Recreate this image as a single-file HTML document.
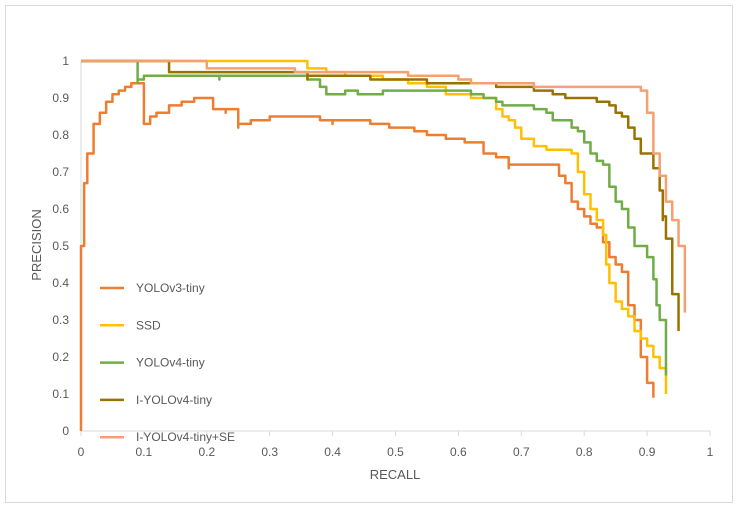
<!DOCTYPE html>
<html><head><meta charset="utf-8"><style>
body{margin:0;background:#fff;font-family:"Liberation Sans",sans-serif}
svg text{font-family:"Liberation Sans",sans-serif;fill:#595959}
</style></head><body>
<svg id="c" width="738" height="510">
<rect x="5.5" y="5.5" width="727" height="497" fill="#fff" stroke="#D9D9D9"/>
<g id="axes"></g><g id="series"></g><g id="legend"></g>
<text x="395" y="479" text-anchor="middle" font-size="13">RECALL</text>
<text transform="translate(41,245) rotate(-90)" text-anchor="middle" font-size="13">PRECISION</text>
</svg>
<script>
const xTicks=[0,0.1,0.2,0.3,0.4,0.5,0.6,0.7,0.8,0.9,1];
const yTicks=[0,0.1,0.2,0.3,0.4,0.5,0.6,0.7,0.8,0.9,1];
const names=["YOLOv3-tiny","SSD","YOLOv4-tiny","I-YOLOv4-tiny","I-YOLOv4-tiny+SE"];
const colors=["#ED7D31","#FFC000","#70AD47","#997300","#F4A070"];
const s1=[[0,0],[0.005,0.5],[0.01,0.67],[0.02,0.75],[0.02,0.8],[0.03,0.83],[0.04,0.86],[0.05,0.89],[0.06,0.91],[0.07,0.92],[0.08,0.93],[0.09,0.94],[0.1,0.94],[0.1,0.83],[0.11,0.83],[0.12,0.85],[0.14,0.86],[0.16,0.88],[0.18,0.89],[0.2,0.9],[0.21,0.9],[0.21,0.87],[0.23,0.86],[0.25,0.87],[0.25,0.82],[0.27,0.83],[0.3,0.84],[0.33,0.85],[0.36,0.85],[0.38,0.84],[0.4,0.83],[0.43,0.84],[0.46,0.83],[0.49,0.82],[0.51,0.82],[0.53,0.81],[0.55,0.8],[0.58,0.79],[0.6,0.79],[0.61,0.78],[0.63,0.78],[0.64,0.75],[0.66,0.74],[0.68,0.74],[0.68,0.71],[0.7,0.72],[0.74,0.72],[0.76,0.69],[0.77,0.67],[0.78,0.66],[0.78,0.62],[0.79,0.6],[0.8,0.58],[0.81,0.56],[0.82,0.55],[0.83,0.51],[0.84,0.47],[0.85,0.45],[0.86,0.43],[0.87,0.34],[0.88,0.3],[0.89,0.2],[0.9,0.13],[0.91,0.09]];
const s2=[[0,1],[0.35,1],[0.36,0.98],[0.39,0.97],[0.42,0.96],[0.48,0.95],[0.52,0.94],[0.55,0.93],[0.58,0.91],[0.62,0.9],[0.65,0.9],[0.66,0.87],[0.67,0.85],[0.68,0.84],[0.69,0.82],[0.7,0.79],[0.72,0.77],[0.74,0.76],[0.76,0.76],[0.78,0.75],[0.79,0.74],[0.79,0.7],[0.8,0.64],[0.81,0.6],[0.82,0.57],[0.83,0.53],[0.835,0.45],[0.84,0.4],[0.85,0.35],[0.86,0.33],[0.87,0.31],[0.88,0.27],[0.89,0.25],[0.9,0.23],[0.91,0.2],[0.92,0.17],[0.93,0.17],[0.93,0.1]];
const s3=[[0,1],[0.09,1],[0.09,0.94],[0.1,0.95],[0.12,0.96],[0.22,0.96],[0.22,0.95],[0.23,0.96],[0.35,0.96],[0.36,0.95],[0.38,0.93],[0.39,0.91],[0.42,0.91],[0.43,0.92],[0.44,0.91],[0.48,0.91],[0.49,0.92],[0.6,0.92],[0.62,0.91],[0.64,0.9],[0.66,0.89],[0.67,0.88],[0.7,0.88],[0.72,0.87],[0.74,0.86],[0.75,0.84],[0.77,0.84],[0.78,0.82],[0.79,0.81],[0.8,0.78],[0.81,0.75],[0.82,0.73],[0.83,0.72],[0.84,0.66],[0.85,0.62],[0.86,0.6],[0.87,0.55],[0.88,0.5],[0.89,0.5],[0.9,0.47],[0.91,0.41],[0.915,0.34],[0.92,0.3],[0.93,0.2],[0.93,0.15]];
const s4=[[0,1],[0.14,1],[0.14,0.97],[0.35,0.97],[0.36,0.95],[0.38,0.96],[0.42,0.96],[0.46,0.95],[0.52,0.95],[0.55,0.94],[0.64,0.94],[0.66,0.93],[0.7,0.93],[0.72,0.92],[0.75,0.91],[0.77,0.9],[0.8,0.9],[0.82,0.89],[0.84,0.88],[0.85,0.86],[0.86,0.85],[0.87,0.82],[0.88,0.79],[0.89,0.75],[0.91,0.75],[0.91,0.71],[0.92,0.65],[0.925,0.57],[0.93,0.58],[0.93,0.52],[0.94,0.37],[0.95,0.37],[0.95,0.27]];
const s5=[[0,1],[0.2,1],[0.2,0.98],[0.33,0.98],[0.34,0.97],[0.5,0.97],[0.52,0.96],[0.55,0.96],[0.6,0.95],[0.62,0.94],[0.7,0.94],[0.72,0.93],[0.88,0.93],[0.89,0.92],[0.9,0.91],[0.9,0.86],[0.91,0.75],[0.92,0.69],[0.93,0.69],[0.93,0.62],[0.94,0.57],[0.95,0.57],[0.95,0.5],[0.96,0.5],[0.96,0.32]];
const series=[s1,s2,s3,s4,s5];
const NS="http://www.w3.org/2000/svg";
const X=r=>81+629*r, Y=p=>431-370*p;
function mk(t,a,parent){const e=document.createElementNS(NS,t);for(const k in a)e.setAttribute(k,a[k]);parent.appendChild(e);return e;}
const ax=document.getElementById('axes');
let a=mk('line',{x1:X(0),y1:Y(0),x2:X(1),y2:Y(0),stroke:'#D9D9D9'},ax);


a=mk('line',{x1:X(0),y1:Y(0),x2:X(0),y2:Y(1),stroke:'#D9D9D9'},ax);


xTicks.forEach(v=>{
 mk('line',{x1:X(v),y1:Y(0),x2:X(v),y2:Y(0)+5,stroke:'#D9D9D9'},ax);
 const t=mk('text',{x:X(v),y:456,'text-anchor':'middle','font-size':12},ax);t.textContent=v;
 
 
});
yTicks.forEach(v=>{
 const t=mk('text',{x:69,y:Y(v)+4,'text-anchor':'end','font-size':12},ax);t.textContent=v;
 
 
});
function stepPath(s){
 let d='M'+X(s[0][0])+' '+Y(s[0][1]);
 for(let k=1;k<s.length;k++){
  const up=s[k][1]>s[k-1][1];
  if(up){d+=' V'+Y(s[k][1])+' H'+X(s[k][0]);}
  else{d+=' H'+X(s[k][0])+' V'+Y(s[k][1]);}
 }
 return d;
}
const sg=document.getElementById('series');
series.forEach((s,i)=>{
 const l=mk('path',{d:stepPath(s),fill:'none',stroke:colors[i],'stroke-width':2.5,'stroke-linejoin':'round'},sg);
 
 
});
const lg=document.getElementById('legend');
names.forEach((n,i)=>{
 const y=288+37.3*i;
 const g=mk('g',{},lg);
 
 
 mk('line',{x1:100,y1:y,x2:124,y2:y,stroke:colors[i],'stroke-width':2.5},g);
 const t=mk('text',{x:136,y:y+4,'font-size':12},g);t.textContent=n;
});
</script>
</body></html>
